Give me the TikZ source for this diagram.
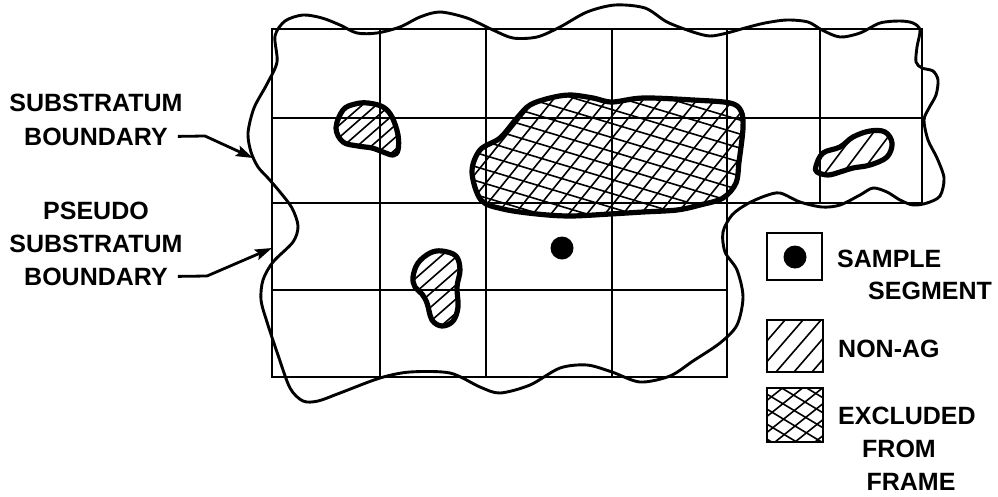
\documentclass[tikz,border=0pt]{standalone}
\usepackage{fontspec}
\setmainfont{Liberation Sans}
\usetikzlibrary{arrows.meta}
\begin{document}
\begin{tikzpicture}[x=1pt,y=-1pt,
  gridline/.style={line width=2.9pt},
  bnd/.style={line width=2.9pt},
  blob/.style={line width=5.2pt, line join=round},
  hatch/.style={line width=1.6pt},
  lbl/.style={font=\fontsize{25}{30}\selectfont\bfseries, inner sep=0pt},
  arr/.style={line width=2.8pt, -{Stealth[length=17pt,width=11pt,inset=3pt]}},
  legbox/.style={line width=2.8pt}]
\useasboundingbox (0,0) rectangle (998,496);

% ---------- grid (pseudo substratum boundary) ----------
\draw[gridline] (272,29) rectangle (922,203);
\draw[gridline] (272,203) rectangle (727,377);
\draw[gridline] (272,118) -- (922,118);
\draw[gridline] (272,290) -- (727,290);
\foreach \x in {380,486,612,727} \draw[gridline] (\x,29) -- (\x,377);
\draw[gridline] (820,29) -- (820,203);

% ---------- blob paths ----------
\def\bigblob{plot[smooth cycle, tension=0.55] coordinates {(472,172) (480,150) (500,138) (517,118) (530,105) (550,98) (570,95) (593,98) (612,102) (643,98) (693,100) (730,103) (741,111) (743,128) (739,162) (736,183) (723,198) (700,205) (677,210) (643,212) (610,214) (570,216) (537,214) (503,209) (481,200)}}
\def\blobA{plot[smooth cycle, tension=0.6] coordinates {(336,128) (343,110) (355,104) (368,103) (383,107) (392,117) (398,135) (398,150) (393,155) (383,152) (372,148) (358,146) (343,142)}}
\def\blobB{plot[smooth cycle, tension=0.6] coordinates {(816,166) (823,153) (840,147) (853,137) (870,131) (885,132) (892,143) (887,157) (870,165) (853,168) (840,172) (828,175) (817,172)}}
\def\blobC{plot[smooth cycle, tension=0.6] coordinates {(418,263) (430,253) (442,251) (456,256) (460,270) (457,287) (458,307) (453,321) (442,326) (432,320) (427,303) (422,294) (415,287) (413,277)}}

% ---------- hatching ----------
\begin{scope}
  \clip \bigblob;
  \foreach \i in {300,318,...,780} \draw[hatch] (\i,235) -- (\i+125,80);
  \foreach \j in {-40,-26,...,240} \draw[hatch] (440,\j) -- (780,\j+102);
\end{scope}
\begin{scope}
  \clip \blobA;
  \foreach \i in {260,274,...,420} \draw[hatch] (\i,170) -- (\i+80,100);
\end{scope}
\begin{scope}
  \clip \blobB;
  \foreach \i in {780,798,...,900} \draw[hatch] (\i,185) -- (\i+45,125);
\end{scope}
\begin{scope}
  \clip \blobC;
  \foreach \j in {250,264,...,400} \draw[hatch] (400,\j) -- (480,\j-70);
\end{scope}

% ---------- blob outlines ----------
\draw[blob] \bigblob;
\draw[blob] \blobA;
\draw[blob] \blobB;
\draw[blob] \blobC;

% ---------- sample segment ----------
\fill (562,248) circle (11.5);

% ---------- substratum boundary (wavy) ----------
\draw[bnd] plot[smooth cycle, tension=0.5] coordinates {
 (275,36) (285,21) (303,15) (322,18) (340,25) (357,33) (377,33) (400,27) (420,17) (440,12) (467,18) (493,30) (513,38) (537,37) (560,27) (587,12) (615,5) (645,8) (667,22) (693,32) (710,36) (727,33) (745,28) (765,23) (787,20) (808,22) (822,30) (840,37) (860,33) (880,23) (900,21) (913,23) (920,30) (917,47) (916,62) (922,68) (933,71) (938,80) (936,95) (929,108) (924,120) (928,140) (937,158) (944,178) (940,196) (927,203) (913,205) (900,200) (887,192) (873,188) (860,195) (840,205) (822,207) (800,202) (780,193) (765,196) (747,204) (732,215) (723,232) (725,252) (737,270) (743,297) (737,325) (720,343) (693,361) (670,376) (640,382) (612,372) (587,365) (560,368) (530,385) (500,393) (480,387) (450,373) (410,372) (380,378) (340,393) (318,401) (303,401) (290,388) (278,355) (267,322) (261,300) (263,280) (273,262) (293,242) (298,226) (292,208) (280,192) (268,178) (258,167) (251,152) (248,133) (254,108) (267,84) (277,62)};

% ---------- left labels ----------
\node[lbl, anchor=base] (sb1) at (96,111) {SUBSTRATUM};
\node[lbl, anchor=base] (sb2) at (96,145) {BOUNDARY};
\coordinate (sbbend) at (205,136);
\coordinate (sbtip) at (253,158);
\draw[arr] ([xshift=10pt]sb2.east) -- (sbbend) -- (sbtip);

\node[lbl, anchor=base] (pb1) at (96,219) {PSEUDO};
\node[lbl, anchor=base] (pb2) at (96,252) {SUBSTRATUM};
\node[lbl, anchor=base] (pb3) at (96,285) {BOUNDARY};
\coordinate (pbbend) at (207,276);
\coordinate (pbtip) at (272,248);
\draw[arr] ([xshift=10pt]pb3.east) -- (pbbend) -- (pbtip);

% ---------- legend ----------
\draw[legbox] (767,233) rectangle (822,280);
\fill (795,257) circle (11.5);
\node[lbl, anchor=base west] (l1a) at (837,267) {SAMPLE};
\node[lbl, anchor=base west] (l1b) at (868,299) {SEGMENT};

\begin{scope}
  \clip (767,320) rectangle (823,372);
  \foreach \i in {722,740,...,830} \draw[hatch] (\i,372) -- (\i+45,320);
\end{scope}
\draw[legbox] (767,320) rectangle (823,372);
\node[lbl, anchor=base west] (l2) at (838,357) {NON-AG};

\begin{scope}
  \clip (767,388) rectangle (823,442);
  \foreach \j in {330,345,...,450} \draw[hatch] (760,\j) -- (830,\j+42);
  \foreach \j in {390,406,...,520} \draw[hatch] (760,\j) -- (830,\j-56);
\end{scope}
\draw[legbox] (767,388) rectangle (823,442);
\node[lbl, anchor=base west] (l3a) at (838,424) {EXCLUDED};
\node[lbl, anchor=base] (l3b) at (899,457) {FROM};
\node[lbl, anchor=base] (l3c) at (911,490) {FRAME};
\end{tikzpicture}
\end{document}
